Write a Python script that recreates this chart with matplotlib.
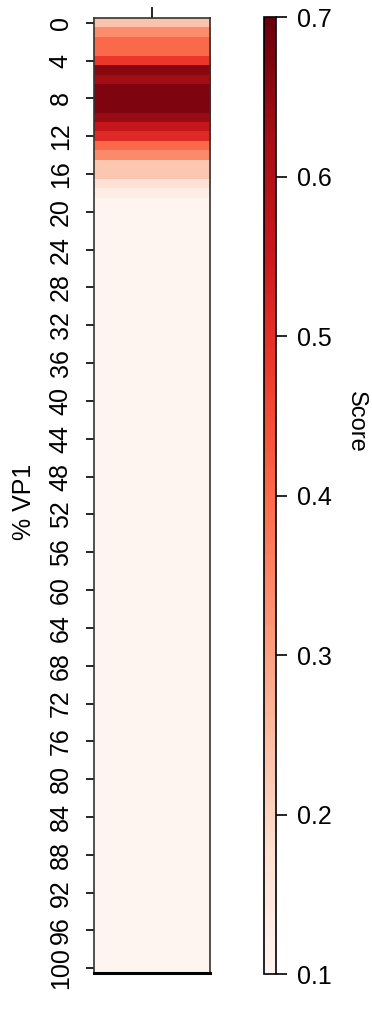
import matplotlib
matplotlib.use("Agg")
import matplotlib.pyplot as plt
import numpy as np

plt.rcParams["font.family"] = ["Liberation Sans", "DejaVu Sans"]

# % VP1 rows (0..100) and their scores
vp1_pct = list(range(0, 101))
top_scores = [0.232, 0.334, 0.40, 0.40, 0.484, 0.658, 0.625, 0.67, 0.67, 0.67,
              0.64, 0.56, 0.51, 0.40, 0.34, 0.226, 0.226, 0.17, 0.13]
scores = top_scores + [0.1] * (len(vp1_pct) - len(top_scores))
y_ticks = list(range(0, 101, 4))
cbar_ticks = [0.1, 0.2, 0.3, 0.4, 0.5, 0.6, 0.7]

fig = plt.figure(figsize=(3.72, 10.09), dpi=100)
ax = fig.add_axes([93.5 / 372, 1 - 973 / 1009, 116.5 / 372, 955 / 1009])
cax = fig.add_axes([264 / 372, 1 - 974 / 1009, 12 / 372, 957 / 1009])

grid = np.array(scores).reshape(-1, 1)
im = ax.imshow(grid, cmap="Reds", vmin=0.1, vmax=0.7, aspect="auto",
               interpolation="nearest",
               extent=[-0.5, 0.5, vp1_pct[-1] + 0.5, vp1_pct[0] - 0.5])
ax.set_ylim(vp1_pct[-1] + 0.5, vp1_pct[0] - 0.5)

ax.set_yticks(y_ticks)
ax.set_yticklabels([str(t) for t in y_ticks], rotation=90, va="center",
                   fontsize=18)
ax.tick_params(axis="y", length=6, width=1.2, pad=9)
ax.xaxis.tick_top()
ax.set_xticks([0])
ax.set_xticklabels([""])
ax.tick_params(axis="x", length=8, width=1.2)
for s in ax.spines.values():
    s.set_linewidth(1.2)
    s.set_color("#333333")
ax.spines["bottom"].set_linewidth(2.2)
ax.spines["bottom"].set_color("black")
fig.text(24 / 372, 1 - 502 / 1009, "% VP1", rotation=90, ha="center",
         va="center", fontsize=18)

cb = fig.colorbar(im, cax=cax, ticks=cbar_ticks)
cb.outline.set_linewidth(1.2)
cb.ax.tick_params(length=8, width=1.2, pad=7, labelsize=18)
cb.ax.set_yticklabels([f"{t:.1f}" for t in cbar_ticks])
fig.text(356 / 372, 1 - 422 / 1009, "Score", rotation=270, ha="center",
         va="center", fontsize=17)

fig.savefig("out.png", dpi=100)
